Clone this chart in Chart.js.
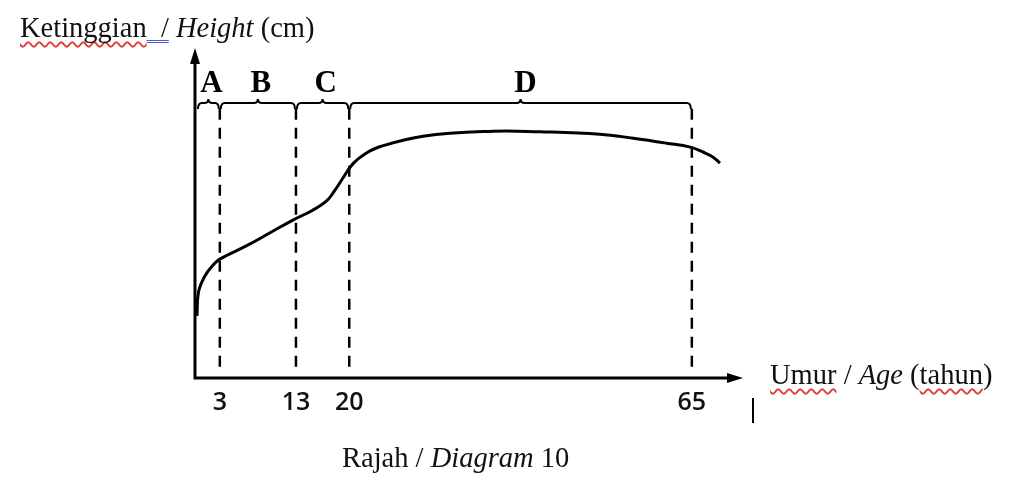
<!DOCTYPE html>
<html>
<head>
<meta charset="utf-8">
<script src="https://cdn.jsdelivr.net/npm/chart.js@4.4.1/dist/chart.umd.min.js"></script>
<style>
    body { margin: 0; background: #fff; }
    #wrap { position: relative; width: 1018px; height: 478px; }
    .txt { position: absolute; font-family: "Liberation Serif", "Times New Roman", serif; font-size: 28.5px; line-height: 1; color: #111; white-space: nowrap; }
    .wavy { text-decoration: underline wavy #e03a3a; text-decoration-thickness: 1.5px; text-underline-offset: 4px; text-decoration-skip-ink: none; }
    .dbl { text-decoration: underline double #4a5bd0; text-decoration-thickness: 1px; text-underline-offset: 3px; text-decoration-skip-ink: none; }
    #cursor { position: absolute; left: 752px; top: 398px; width: 1.5px; height: 25px; background: #000; }
</style>
</head>
<body>
<div id="wrap">
    <canvas id="growthChart"></canvas>
    <div class="txt" style="left:20px; top:14px;"><span class="wavy">Ketinggian</span><span class="dbl">&nbsp; /</span> <i>Height</i> (cm)</div>
    <div class="txt" style="left:770px; top:361px;"><span class="wavy">Umur</span> / <i>Age</i> (<span class="wavy">tahun</span>)</div>
    <div class="txt" style="left:342px; top:444px;">Rajah / <i>Diagram</i> 10</div>
    <div id="cursor"></div>
</div>
<script>
// growth curve (age in years, height in cm)
const ages    = [0, 0.2, 1.0, 2.1, 3, 6.6, 9.6, 12.6, 15.2, 17.1, 18.1, 19.2, 20.5, 22.1, 24, 29.7, 38.9, 45, 52.9, 57.3, 61.7, 64.8, 66.5, 67.8, 68.7];
const heights = [44, 61, 72, 80, 84.3, 94, 103, 112, 119, 126, 133, 142, 152, 159, 164, 171.5, 175, 174.6, 172.9, 170, 166.5, 163.7, 160.1, 156.6, 152.3];

// stage boundaries and labels
const ageTicks = [3, 13, 20, 65];
const stageStart = [0, 3, 13, 20];
const stageEnd = [3, 13, 20, 65];
const stageNames = ['A', 'B', 'C', 'D'];
const braceHeight = 195;
const dashBottom = 8;

const curve = ages.map((a, i) => ({ x: a, y: heights[i] }));

const dashSets = ageTicks.map(a => ({
    data: [{ x: a, y: dashBottom }, { x: a, y: braceHeight }],
    borderColor: '#000',
    borderWidth: 2.5,
    borderDash: [11, 8],
    pointRadius: 0,
    tension: 0
}));

// axes with arrows, and the braces with A-D on top
const decorPlugin = {
    id: 'decor',
    afterDatasetsDraw(chart) {
        const ctx = chart.ctx;
        const area = chart.chartArea;
        const xs = chart.scales.x;
        const ys = chart.scales.y;
        ctx.save();
        ctx.strokeStyle = '#000';
        ctx.fillStyle = '#000';
        ctx.lineWidth = 3;
        ctx.lineCap = 'butt';

        // axes
        ctx.beginPath();
        ctx.moveTo(area.left, area.top + 10);
        ctx.lineTo(area.left, area.bottom);
        ctx.lineTo(area.right - 12, area.bottom);
        ctx.stroke();

        // arrow heads
        ctx.beginPath();
        ctx.moveTo(area.left, area.top);
        ctx.lineTo(area.left - 5, area.top + 16);
        ctx.lineTo(area.left + 5, area.top + 16);
        ctx.closePath();
        ctx.fill();
        ctx.beginPath();
        ctx.moveTo(area.right, area.bottom);
        ctx.lineTo(area.right - 16, area.bottom - 5);
        ctx.lineTo(area.right - 16, area.bottom + 5);
        ctx.closePath();
        ctx.fill();

        // braces
        const by = ys.getPixelForValue(braceHeight);
        ctx.lineWidth = 2;
        ctx.font = 'bold 31px "Liberation Serif", serif';
        ctx.textAlign = 'center';
        ctx.textBaseline = 'alphabetic';
        for (let i = 0; i < stageNames.length; i++) {
            const x1 = xs.getPixelForValue(stageStart[i]) + 1;
            const x2 = xs.getPixelForValue(stageEnd[i]) - 1;
            const xm = (x1 + x2) / 2;
            ctx.beginPath();
            ctx.moveTo(x1, by + 6);
            ctx.quadraticCurveTo(x1, by, x1 + 4, by);
            ctx.lineTo(xm - 4, by);
            ctx.quadraticCurveTo(xm, by, xm, by - 4);
            ctx.quadraticCurveTo(xm, by, xm + 4, by);
            ctx.lineTo(x2 - 4, by);
            ctx.quadraticCurveTo(x2, by, x2, by + 6);
            ctx.stroke();
            ctx.fillText(stageNames[i], xm + (i === 3 ? 5 : 3), by - 11);
        }
        ctx.restore();
    }
};

new Chart(document.getElementById('growthChart'), {
    type: 'line',
    data: {
        datasets: [{
            data: curve,
            borderColor: '#000',
            borderWidth: 3,
            pointRadius: 0,
            tension: 0.4
        }, ...dashSets]
    },
    options: {
        responsive: true,
        maintainAspectRatio: false,
        animation: false,
        events: [],
        layout: { padding: { left: 195, right: 275, top: 48, bottom: 50 } },
        plugins: { legend: { display: false }, tooltip: { enabled: false } },
        scales: {
            x: {
                type: 'linear',
                min: -0.26,
                max: 71.72,
                grid: { display: false, drawTicks: false },
                border: { display: false },
                afterBuildTicks: axis => { axis.ticks = ageTicks.map(v => ({ value: v })); },
                ticks: {
                    autoSkip: false,
                    maxRotation: 0,
                    padding: 10,
                    color: '#111',
                    font: { family: '"Open Sans", sans-serif', size: 25, weight: '600' }
                }
            },
            y: {
                display: false,
                min: 0,
                max: 234
            }
        }
    },
    plugins: [decorPlugin]
});
</script>
</body>
</html>
